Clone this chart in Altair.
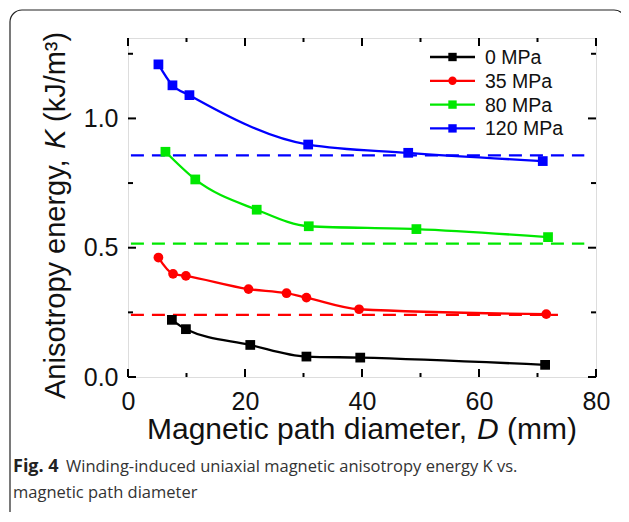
import altair as alt
import pandas as pd

# ---------------- data ----------------
series_names = ["0 MPa", "35 MPa", "80 MPa", "120 MPa"]
series_colors = ["#000000", "#ff0000", "#00e800", "#0000ff"]
series_shapes = ["square", "circle", "square", "square"]

D_0 = [7.5, 9.9, 20.9, 30.5, 39.7, 71.3]
K_0 = [0.221, 0.185, 0.124, 0.079, 0.075, 0.047]

D_35 = [5.2, 7.7, 9.9, 20.6, 27.1, 30.5, 39.5, 71.5]
K_35 = [0.462, 0.399, 0.391, 0.340, 0.324, 0.307, 0.262, 0.243]

D_80 = [6.4, 11.5, 22.0, 30.9, 49.3, 71.8]
K_80 = [0.871, 0.764, 0.647, 0.583, 0.572, 0.541]

D_120 = [5.2, 7.6, 10.5, 30.8, 47.9, 70.9]
K_120 = [1.209, 1.128, 1.090, 0.899, 0.867, 0.835]

# dashed reference levels (35, 80, 120 MPa)
dash_series = ["35 MPa", "80 MPa", "120 MPa"]
dash_level = [0.240, 0.516, 0.857]
dash_start = [0.5, 0.5, 0.5]
dash_end = [73.5, 78.0, 78.0]

x_major = [0, 20, 40, 60, 80]
x_minor = [10, 30, 50, 70]
y_major = [0.0, 0.5, 1.0]
y_minor = [0.25, 0.75, 1.25]

x_domain = [0, 80]
y_domain = [0, 1.311]

caption_bold = "Fig. 4"
caption_line1 = "Winding-induced uniaxial magnetic anisotropy energy K vs."
caption_line2 = "magnetic path diameter"

# ---------------- tables ----------------
rows = []
for name, ds, ks in zip(series_names, [D_0, D_35, D_80, D_120], [K_0, K_35, K_80, K_120]):
    for d, k in zip(ds, ks):
        rows.append({"series": name, "D": d, "K": k})
df = pd.DataFrame(rows)
df_dash = pd.DataFrame({"series": dash_series, "K": dash_level, "x1": dash_start, "x2": dash_end})

W, H = 468, 339
FONT = "Liberation Sans"

xs = alt.Scale(domain=x_domain, nice=False, zero=False)
ys = alt.Scale(domain=y_domain, nice=False, zero=False)
cs = alt.Scale(domain=series_names, range=series_colors)
ss = alt.Scale(domain=series_names, range=series_shapes)

base = alt.Chart(df)

lines = base.mark_line(strokeWidth=2.3, interpolate="monotone").encode(
    x=alt.X("D:Q", scale=xs, title=None,
            axis=alt.Axis(values=x_major, ticks=False, tickSize=0, domain=False, grid=False,
                          labelFontSize=25, labelFont=FONT, labelColor="#111111",
                          labelBaseline="alphabetic", labelPadding=32, labelFlush=False)),
    y=alt.Y("K:Q", scale=ys, title=None,
            axis=alt.Axis(values=y_major, format=".1f", ticks=False, tickSize=0, domain=False,
                          grid=False, labelFontSize=25, labelFont=FONT, labelColor="#111111",
                          labelPadding=10, labelBaseline="middle", labelFlush=False)),
    color=alt.Color("series:N", scale=cs, legend=None),
    detail="series:N",
)

points = base.mark_point(filled=True, opacity=1, size=95).encode(
    x=alt.X("D:Q", scale=xs),
    y=alt.Y("K:Q", scale=ys),
    color=alt.Color("series:N", scale=cs, legend=None),
    shape=alt.Shape("series:N", scale=ss, legend=None),
)

dashes = alt.Chart(df_dash).mark_rule(strokeWidth=2.3, strokeDash=[13, 8]).encode(
    x=alt.X("x1:Q", scale=xs),
    x2="x2:Q",
    y=alt.Y("K:Q", scale=ys),
    color=alt.Color("series:N", scale=cs, legend=None),
)

# inward ticks
tick_layers = []
for vals, ln in [(x_major, 8), (x_minor, 4)]:
    tdf = pd.DataFrame({"v": vals})
    tick_layers.append(alt.Chart(tdf).mark_rule(color="black", strokeWidth=2).encode(
        x=alt.X("v:Q", scale=xs), y=alt.value(H), y2=alt.value(H - ln)))
    tick_layers.append(alt.Chart(tdf).mark_rule(color="black", strokeWidth=2).encode(
        x=alt.X("v:Q", scale=xs), y=alt.value(0), y2=alt.value(ln)))
for vals, ln in [(y_major, 8), (y_minor, 5)]:
    tdf = pd.DataFrame({"v": vals})
    tick_layers.append(alt.Chart(tdf).mark_rule(color="black", strokeWidth=2).encode(
        y=alt.Y("v:Q", scale=ys), x=alt.value(0), x2=alt.value(ln)))
    tick_layers.append(alt.Chart(tdf).mark_rule(color="black", strokeWidth=2).encode(
        y=alt.Y("v:Q", scale=ys), x=alt.value(W), x2=alt.value(W - ln)))

# legend (manual)
legend_layers = []
for i, (name, col, shp) in enumerate(zip(series_names, series_colors, series_shapes)):
    ly = 19 + 23.8 * i
    ldf = pd.DataFrame({"label": [name]})
    legend_layers.append(alt.Chart(ldf).mark_rule(strokeWidth=2.3, color=col).encode(
        x=alt.value(302), x2=alt.value(347), y=alt.value(ly)))
    legend_layers.append(alt.Chart(ldf).mark_point(filled=True, opacity=1, size=70, shape=shp, color=col).encode(
        x=alt.value(324.5), y=alt.value(ly)))
    legend_layers.append(alt.Chart(ldf).mark_text(align="left", baseline="middle", fontSize=19.5,
                                                  font=FONT, color="#111111").encode(
        x=alt.value(357), y=alt.value(ly + 1), text="label:N"))

# axis titles with italic symbols
one = pd.DataFrame({"a": [0]})
def txt(s, x, y, size, style="normal", weight="normal", angle=0, font=FONT, color="#111111"):
    kw = dict(align="left", baseline="alphabetic", fontSize=size, font=font, fontStyle=style,
              fontWeight=weight, text=s, color=color)
    if angle:
        kw["angle"] = angle
    return alt.Chart(one).mark_text(**kw).encode(x=alt.value(x), y=alt.value(y))

title_layers = [
    txt("Magnetic path diameter,", 19, 401, 30),
    txt("D", 349, 401, 30, style="italic"),
    txt("(mm)", 379, 401, 30),
    txt("Anisotropy energy,", -63, 361, 29, angle=270),
    txt("K", -63, 111, 29, style="italic", angle=270),
    txt("(kJ/m\u00b3)", -63, 84, 29, angle=270),
]

cap_font = "Open Sans"
cap_layers = [
    txt(caption_bold, -115, 434, 18, weight="bold", font=cap_font, color="#222222"),
    txt(caption_line1, -62, 434, 16.5, font=cap_font, color="#333333"),
    txt(caption_line2, -115, 460, 16.5, font=cap_font, color="#333333"),
]

border = alt.Chart(one).mark_rect(fill="transparent", stroke="#222222", strokeWidth=1.2,
                                  cornerRadius=12).encode(
    x=alt.value(-118), x2=alt.value(W + 30), y=alt.value(-28), y2=alt.value(H + 160))

chart = alt.layer(
    border, dashes, lines, points, *tick_layers, *legend_layers, *title_layers, *cap_layers
).properties(
    width=W, height=H,
    autosize=alt.AutoSizeParams(type="none"),
    padding={"left": 120, "top": 30, "right": 25, "bottom": 135},
).configure_view(
    stroke="black", strokeWidth=2.2
).configure(background="white")

chart.save("out.html", embed_options={"renderer": "svg", "actions": False})
